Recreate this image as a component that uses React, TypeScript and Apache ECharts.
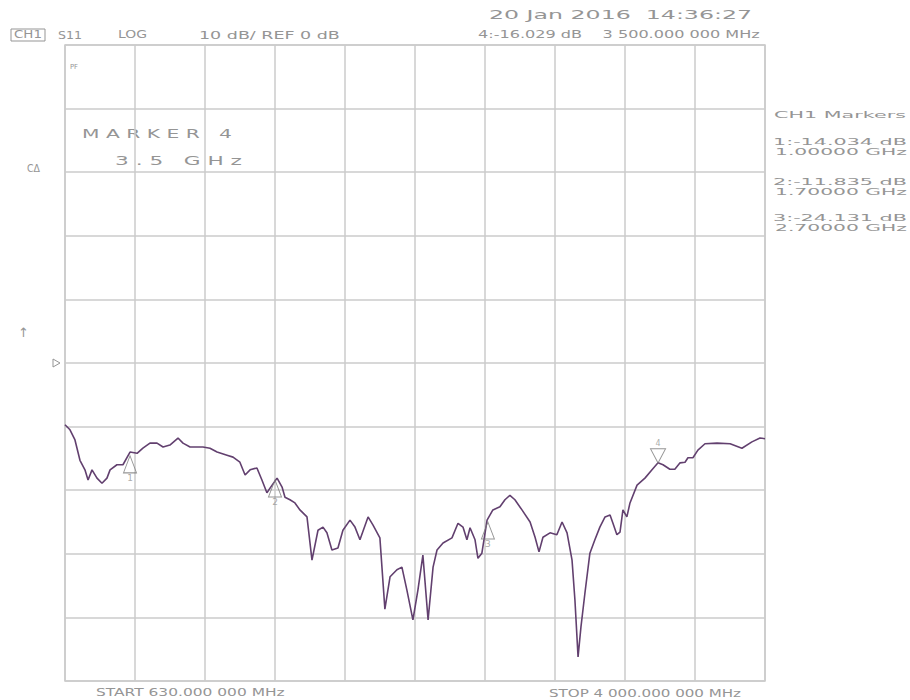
import React, { useEffect, useRef } from "react";
import * as echarts from "echarts";

// ---- sweep settings ----
const startMHz = 630;
const stopMHz = 4000;
const refDb = 0;
const dbPerDiv = 10;
const divisions = 10;

// ---- S11 trace ----
const freqMHz = [
  630, 654, 678, 702, 726, 741, 760, 784, 808, 832,
  847, 880, 909, 943, 977, 1005, 1039, 1073, 1102, 1135,
  1174, 1198, 1232, 1265, 1294, 1328, 1362, 1410, 1439, 1472,
  1497, 1521, 1554, 1578, 1602, 1627, 1651, 1675, 1689, 1713,
  1737, 1761, 1795, 1819, 1848, 1872, 1891, 1915, 1944, 1968,
  2002, 2026, 2050, 2089, 2113, 2146, 2170, 2195, 2228, 2252,
  2276, 2305, 2329, 2353, 2378, 2402, 2421, 2450, 2493, 2522,
  2546, 2565, 2580, 2604, 2618, 2637, 2662, 2690, 2724, 2748,
  2772, 2796, 2830, 2869, 2893, 2912, 2931, 2965, 2998, 3023,
  3047, 3071, 3085, 3100, 3114, 3133, 3157, 3181, 3205, 3230,
  3254, 3268, 3287, 3302, 3316, 3335, 3350, 3384, 3422, 3456,
  3485, 3509, 3542, 3566, 3591, 3615, 3629, 3653, 3677, 3711,
  3769, 3832, 3889, 3937, 3976, 4000,
];
const s11Db = [
  -9.7, -10.5, -12.1, -15.3, -16.8, -18.4, -16.8, -18.1, -18.9, -18.1,
  -16.8, -16.0, -16.0, -14.0, -14.2, -13.4, -12.6, -12.6, -13.2, -12.9,
  -11.8, -12.6, -13.2, -13.2, -13.2, -13.4, -14.0, -14.5, -14.8, -15.6,
  -17.6, -16.8, -16.5, -18.4, -20.4, -19.2, -18.1, -19.5, -21.1, -21.5,
  -22.0, -23.1, -24.2, -31.0, -26.3, -25.8, -26.7, -29.4, -29.1, -26.3,
  -24.7, -25.8, -27.8, -24.2, -25.5, -27.5, -38.7, -33.6, -32.5, -32.1,
  -35.7, -40.4, -35.7, -30.2, -40.4, -32.1, -29.4, -28.3, -27.5, -25.2,
  -25.8, -27.8, -25.9, -27.8, -30.7, -29.9, -24.7, -23.1, -22.6, -21.5,
  -20.8, -21.5, -23.1, -25.0, -27.4, -29.7, -27.4, -26.7, -27.0, -25.0,
  -26.7, -31.0, -37.3, -46.2, -41.5, -36.2, -29.9, -27.8, -25.8, -24.2,
  -23.9, -25.2, -27.0, -26.6, -23.1, -24.2, -22.0, -19.2, -18.1, -16.8,
  -15.7, -16.0, -16.7, -16.7, -15.7, -15.6, -14.9, -14.9, -13.7, -12.7,
  -12.6, -12.7, -13.4, -12.4, -11.8, -11.9,
];

// ---- markers (drawn where they sit on the picture) ----
const markerIds = ["1", "2", "3", "4"];
const markerFreqMHz = [943, 1641, 2666, 3485];
const markerDb = [-14.6, -18.4, -25.0, -15.7];
const activeMarker = "4";

// ---- marker readouts (texts on the screen) ----
const readoutIds = ["1", "2", "3"];
const readoutDb = [-14.034, -11.835, -24.131];
const readoutGHz = [1.0, 1.7, 2.7];
const activeReadoutDb = -16.029;
const activeReadoutMHz = "3 500.000 000";

const headerTexts = ["CH1", "S11", "LOG", "10 dB/ REF 0 dB", "20 Jan 2016  14:36:27"];
const footerTexts = ["START 630.000 000 MHz", "STOP 4 000.000 000 MHz"];

const GREY = "#959595";
const GRID = "#cbcbcb";
const TRACE = "#62406f";
const FONT = "DejaVu Sans";

export default function App() {
  const ref = useRef<HTMLDivElement>(null);

  useEffect(() => {
    if (!ref.current) return;
    const chart = echarts.init(ref.current, null, { renderer: "svg" });

    const canvas = document.createElement("canvas");
    const ctx = canvas.getContext("2d") as CanvasRenderingContext2D;
    const fit = (text: string, x0: number, x1: number, y: number, size: number) => {
      ctx.font = `${size}px "${FONT}"`;
      const w = ctx.measureText(text).width || 1;
      return {
        type: "text",
        x: x0,
        y,
        scaleX: (x1 - x0) / w,
        silent: true,
        style: {
          text,
          fontSize: size,
          fontFamily: FONT,
          fill: GREY,
          align: "left",
          verticalAlign: "middle",
          textAlign: "left",
          textVerticalAlign: "middle",
        },
      };
    };

    const traceData = freqMHz.map((f, i) => [f, s11Db[i]]);

    const markerData = markerIds.map((id, i) => {
      const active = id === activeMarker;
      return {
        name: id,
        value: [markerFreqMHz[i], markerDb[i]],
        symbol: active ? "path://M0,0 L16,0 L8,15 Z" : "triangle",
        symbolSize: active ? [15, 14] : [13, 17],
        symbolOffset: active ? [0, -7] : [0, 8.5],
        label: {
          show: true,
          position: active ? "top" : "bottom",
          distance: active ? 1 : 0,
          formatter: id,
          color: GREY,
          fontSize: active ? 8 : 9,
          fontFamily: FONT,
        },
      };
    });

    const readoutEls: any[] = [];
    const readoutY = [142, 182, 218];
    readoutIds.forEach((id, i) => {
      readoutEls.push(fit(`${id}:${readoutDb[i].toFixed(3)} dB`, 773, 907, readoutY[i], 9));
      readoutEls.push(fit(`${readoutGHz[i].toFixed(5)} GHz`, 775, 907, readoutY[i] + 10, 9));
    });

    const option: any = {
      animation: false,
      backgroundColor: "#ffffff",
      grid: {
        left: 65,
        top: 45,
        width: 700,
        height: 636,
        show: true,
        borderColor: GRID,
        borderWidth: 1.5,
        backgroundColor: "transparent",
      },
      xAxis: [
        { type: "value", min: startMHz, max: stopMHz, show: false },
        {
          type: "value",
          min: 0,
          max: divisions,
          interval: 1,
          position: "bottom",
          axisLine: { show: false },
          axisTick: { show: false },
          axisLabel: { show: false },
          splitLine: { show: true, lineStyle: { color: GRID, width: 1.5 } },
        },
      ],
      yAxis: [
        {
          type: "value",
          min: refDb - (divisions / 2) * dbPerDiv,
          max: refDb + (divisions / 2) * dbPerDiv,
          interval: dbPerDiv,
          axisLine: { show: false },
          axisTick: { show: false },
          axisLabel: { show: false },
          splitLine: { show: true, lineStyle: { color: GRID, width: 1.5 } },
        },
      ],
      series: [
        {
          type: "line",
          xAxisIndex: 0,
          yAxisIndex: 0,
          data: traceData,
          showSymbol: false,
          symbol: "none",
          silent: true,
          z: 3,
          lineStyle: { color: TRACE, width: 1.6 },
        },
        {
          type: "scatter",
          xAxisIndex: 0,
          yAxisIndex: 0,
          data: markerData,
          silent: true,
          z: 4,
          itemStyle: { color: "rgba(255,255,255,0)", borderColor: "#7a7a7a", borderWidth: 1 },
        },
      ],
      graphic: {
        elements: [
          {
            type: "rect",
            silent: true,
            shape: { x: 11, y: 29, width: 34, height: 12 },
            style: { fill: "none", stroke: GREY, lineWidth: 1 },
          },
          fit(headerTexts[0], 14, 42, 35, 10),
          fit(headerTexts[1], 58, 82, 35, 10),
          fit(headerTexts[2], 118, 147, 35, 10),
          fit(headerTexts[3], 199, 340, 35, 10),
          fit(headerTexts[4], 489, 752, 15, 12),
          fit(`${activeMarker}:${activeReadoutDb.toFixed(3)} dB    ${activeReadoutMHz} MHz`, 478, 760, 35, 10),
          fit("CH1 Markers", 774, 906, 115, 9),
          ...readoutEls,
          fit("M A R K E R   4", 82, 232, 133, 13),
          fit("3 . 5   G H z", 115, 242, 160, 13),
          fit("PF", 70, 78, 67, 7),
          fit("CΔ", 27, 40, 168, 10),
          {
            type: "text",
            x: 18,
            y: 332,
            silent: true,
            style: {
              text: "↑",
              fontSize: 13,
              fontFamily: FONT,
              fill: GREY,
              align: "left",
              verticalAlign: "middle",
              textAlign: "left",
              textVerticalAlign: "middle",
            },
          },
          {
            type: "polygon",
            silent: true,
            shape: { points: [[53, 359], [53, 367], [60, 363]] },
            style: { fill: "none", stroke: GREY, lineWidth: 1 },
          },
          fit(footerTexts[0], 96, 285, 693, 10),
          fit(footerTexts[1], 549, 741, 693, 10),
        ],
      },
    };

    chart.setOption(option);
    return () => chart.dispose();
  }, []);

  return (
    <div
      ref={ref}
      style={{ position: "fixed", left: 0, top: 0, width: 910, height: 700, background: "#fff" }}
    />
  );
}
